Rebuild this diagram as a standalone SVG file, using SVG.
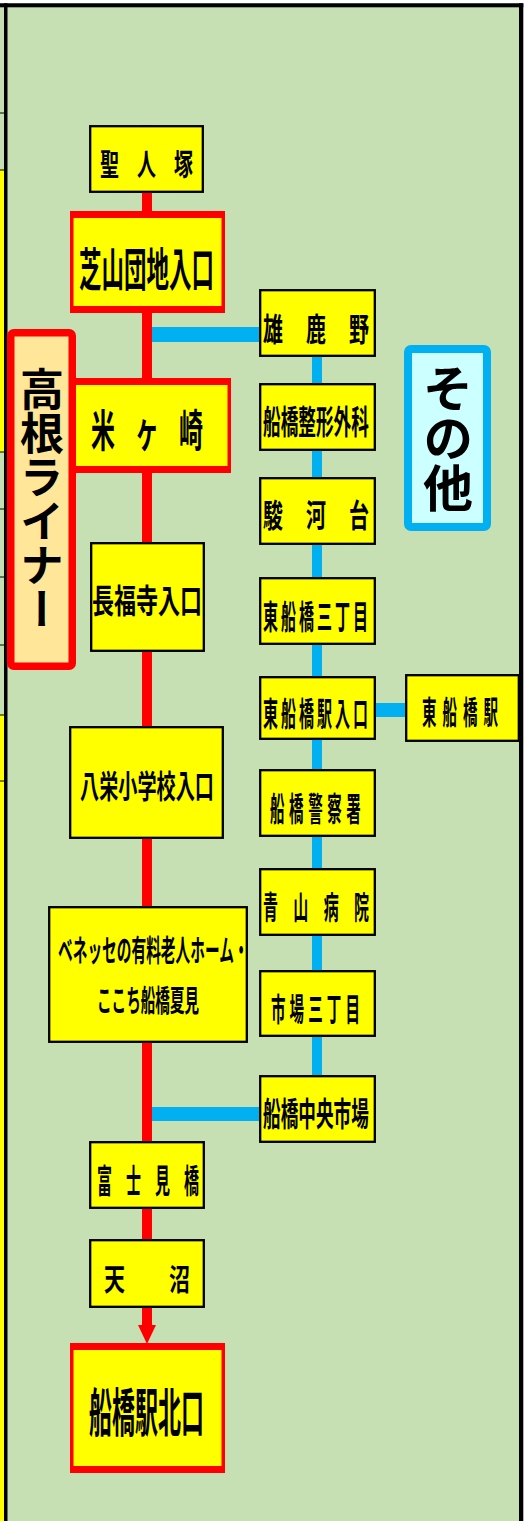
<svg xmlns="http://www.w3.org/2000/svg" width="530" height="1521" viewBox="0 0 530 1521">
<style>
.bx{fill:#FFFF00;stroke:#000;stroke-width:2.3}
.rb{fill:#FF0000}
.ri{fill:#FFFF00}
.t{font-family:"Noto Sans CJK JP","Noto Sans CJK SC",sans-serif;font-weight:bold;fill:#000;dominant-baseline:central}
.v{font-family:"Noto Sans CJK JP","Noto Sans CJK SC",sans-serif;font-weight:bold;fill:#000;writing-mode:vertical-rl;text-anchor:middle}
.red{fill:#FF0000}
.blue{fill:#00B0F0}
.tick{stroke:#000;stroke-width:1}
</style>
<g id="frame">
<rect x="0" y="0" width="530" height="1521" fill="#FFFFFF"/>
<rect x="0" y="3" width="523" height="1518" fill="#C6E0B4"/>
<rect x="0" y="170" width="4" height="282" fill="#FFFF00"/>
<rect x="0" y="715" width="4" height="806" fill="#FFFF00"/>
<line class="tick" x1="0" y1="113" x2="4" y2="113"/>
<line class="tick" x1="0" y1="170" x2="4" y2="170"/>
<line class="tick" x1="0" y1="452" x2="4" y2="452"/>
<line class="tick" x1="0" y1="509" x2="4" y2="509"/>
<line class="tick" x1="0" y1="577" x2="4" y2="577"/>
<line class="tick" x1="0" y1="645" x2="4" y2="645"/>
<line class="tick" x1="0" y1="715" x2="4" y2="715"/>
<line class="tick" x1="0" y1="781" x2="4" y2="781"/>
<rect x="0" y="3.3" width="523.3" height="4" fill="#000"/>
<rect x="4" y="3.3" width="3.5" height="1518" fill="#000"/>
<rect x="519" y="3.3" width="4.3" height="1518" fill="#000"/>
</g>
<g id="connectors">
<rect class="red" x="142" y="125" width="10" height="1201"/>
<polygon class="red" points="138,1325 156,1325 147,1344"/>
<rect class="blue" x="312" y="357" width="10" height="718"/>
<rect class="blue" x="152" y="327" width="107" height="15"/>
<rect class="blue" x="152" y="1107" width="107" height="14"/>
<rect class="blue" x="376" y="703" width="29" height="14"/>
</g>
<g id="n-seijinzuka"><rect class="bx" x="90.2" y="126.2" width="112.6" height="65.6"/><text class="t" transform="translate(100,162) scale(0.633,1)" font-size="30" letter-spacing="28.4">聖人塚</text></g>
<g id="n-shibayama"><rect class="rb" x="70" y="211" width="155" height="102"/><rect class="ri" x="73.5" y="218" width="148" height="88"/><text class="t" transform="translate(79,266) scale(0.489,1)" font-size="46">芝山団地入口</text></g>
<g id="n-komegasaki"><rect class="rb" x="70" y="378" width="161" height="95"/><rect class="ri" x="73.5" y="385" width="154" height="81"/><text class="t" transform="translate(91,428) scale(0.545,1)" font-size="44" letter-spacing="36.7">米ヶ崎</text></g>
<g id="n-takane"><rect x="10.75" y="332.75" width="61.5" height="333.5" rx="3" fill="#FFE699" stroke="#FF0000" stroke-width="7.5"/><text class="v" x="42" y="499" font-size="44">高根ライナー</text></g>
<g id="n-chofukuji"><rect class="bx" x="91.2" y="543.2" width="112.6" height="107.6"/><text class="t" transform="translate(92,598) scale(0.667,1)" font-size="33">長福寺入口</text></g>
<g id="n-yasaka"><rect class="bx" x="70.2" y="727.2" width="152.6" height="110.6"/><text class="t" transform="translate(80,784) scale(0.598,1)" font-size="32">八栄小学校入口</text></g>
<g id="n-benesse"><rect class="bx" x="49.2" y="907.2" width="197.6" height="134.6"/><text class="t" transform="translate(58,948) scale(0.49,1)" font-size="30">ベネッセの有料老人ホーム・</text><text class="t" transform="translate(97,998) scale(0.486,1)" font-size="30">ここち船橋夏見</text></g>
<g id="n-fujimibashi"><rect class="bx" x="90.2" y="1142.2" width="113.6" height="65.6"/><text class="t" transform="translate(97,1178) scale(0.4545,1)" font-size="33" letter-spacing="30.8">富士見橋</text></g>
<g id="n-amanuma"><rect class="bx" x="90.2" y="1240.2" width="113.6" height="66.6"/><text class="t" transform="translate(104,1277) scale(0.7,1)" font-size="30" letter-spacing="62.9">天沼</text></g>
<g id="n-funabashi-kitaguchi"><rect class="rb" x="70" y="1343" width="155" height="130"/><rect class="ri" x="73.5" y="1350" width="148" height="116"/><text class="t" transform="translate(89,1409) scale(0.442,1)" font-size="52">船橋駅北口</text></g>
<g id="n-onikano"><rect class="bx" x="260.2" y="290.2" width="114.6" height="65.6"/><text class="t" transform="translate(263,327) scale(0.625,1)" font-size="32" letter-spacing="36.8">雄鹿野</text></g>
<g id="n-seikei"><rect class="bx" x="260.2" y="384.2" width="114.6" height="65.6"/><text class="t" transform="translate(263,420) scale(0.535,1)" font-size="33">船橋整形外科</text></g>
<g id="n-surugadai"><rect class="bx" x="260.2" y="478.2" width="114.6" height="65.6"/><text class="t" transform="translate(263,513) scale(0.625,1)" font-size="32" letter-spacing="36.8">駿河台</text></g>
<g id="n-higashi3"><rect class="bx" x="260.2" y="578.2" width="114.6" height="65.6"/><text class="t" transform="translate(263,614) scale(0.4545,1)" font-size="33" letter-spacing="6.6">東船橋三丁目</text></g>
<g id="n-higashi-iriguchi"><rect class="bx" x="260.2" y="677.2" width="114.6" height="61.6"/><text class="t" transform="translate(263,711) scale(0.4545,1)" font-size="33" letter-spacing="6.6">東船橋駅入口</text></g>
<g id="n-higashi-eki"><rect class="bx" x="406.2" y="675.2" width="112.6" height="65.6"/><text class="t" transform="translate(422,710) scale(0.453,1)" font-size="32" letter-spacing="13.2">東船橋駅</text></g>
<g id="n-keisatsu"><rect class="bx" x="260.2" y="770.2" width="114.6" height="65.6"/><text class="t" transform="translate(270,806) scale(0.439,1)" font-size="33" letter-spacing="10.5">船橋警察署</text></g>
<g id="n-aoyama"><rect class="bx" x="260.2" y="869.2" width="114.6" height="65.6"/><text class="t" transform="translate(263,905) scale(0.469,1)" font-size="32" letter-spacing="32.7">青山病院</text></g>
<g id="n-ichiba3"><rect class="bx" x="260.2" y="971.2" width="114.6" height="64.6"/><text class="t" transform="translate(271,1007) scale(0.453,1)" font-size="32" letter-spacing="9.1">市場三丁目</text></g>
<g id="n-chuo-ichiba"><rect class="bx" x="260.2" y="1076.2" width="114.6" height="65.6"/><text class="t" transform="translate(263,1112) scale(0.535,1)" font-size="33">船橋中央市場</text></g>
<g id="n-sonota"><rect x="408" y="349" width="79" height="178" rx="3" fill="#CCFFFF" stroke="#00B0F0" stroke-width="8"/><text class="v" x="448" y="438" font-size="50">その他</text></g>
</svg>
